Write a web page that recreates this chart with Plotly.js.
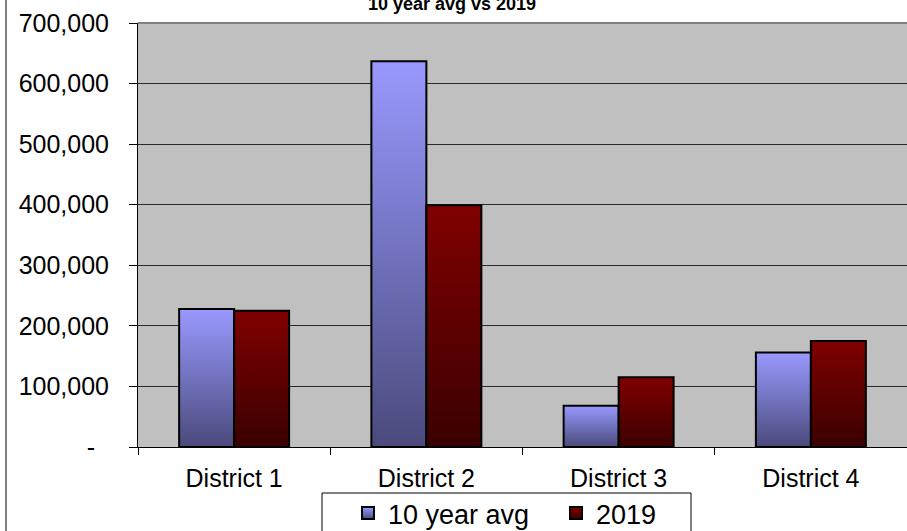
<!DOCTYPE html>
<html>
<head>
<meta charset="utf-8">
<script src="https://cdn.plot.ly/plotly-3.0.1.min.js"></script>
<style>
  html, body { margin: 0; padding: 0; background: #fff; }
  #chart { width: 907px; height: 531px; }
</style>
</head>
<body>
<div id="chart"></div>
<script>
// ---- data ----
var categories = ['District 1', 'District 2', 'District 3', 'District 4'];
var avg10 = [228000, 637000, 68000, 156000];
var y2019 = [225000, 399000, 115000, 175000];
var seriesNames = ['10 year avg', '2019'];
var yTickVals = [0, 100000, 200000, 300000, 400000, 500000, 600000, 700000];
var yTickText = ['-\u00a0\u00a0', '100,000', '200,000', '300,000', '400,000', '500,000', '600,000', '700,000'];
var titleText = '10 year avg vs 2019';

var FONT = 'Liberation Sans, Arial, sans-serif';
var W = 907, H = 531;
var L = 138, R = 0, T = 23, B = 84;
var plotW = W - L - R, plotH = H - T - B;
function px2paperX(px) { return (px - L) / plotW; }
function px2paperY(py) { return (H - B - py) / plotH; }

var traces = [
  {
    type: 'bar', name: seriesNames[0], x: categories, y: avg10,
    marker: { color: '#7777C8', line: { color: '#000', width: 2 } }
  },
  {
    type: 'bar', name: seriesNames[1], x: categories, y: y2019,
    marker: { color: '#600000', line: { color: '#000', width: 2 } }
  }
];

var layout = {
  width: W, height: H,
  margin: { l: L, r: R, t: T, b: B, autoexpand: false },
  paper_bgcolor: '#ffffff',
  plot_bgcolor: '#C0C0C0',
  font: { family: FONT, color: '#000', size: 25 },
  barmode: 'group',
  bargap: 0.428,
  bargroupgap: 0,
  showlegend: true,
  title: {
    text: '<b>' + titleText + '</b>',
    font: { family: FONT, size: 18, color: '#000' },
    x: 452 / W, xanchor: 'center',
    y: 1 - 3.5 / H, yanchor: 'middle',
    xref: 'container', yref: 'container'
  },
  xaxis: {
    type: 'category',
    showgrid: false,
    showline: true, linecolor: '#000', linewidth: 1,
    ticks: 'outside', ticklen: 7, tickcolor: '#000', tickwidth: 1,
    tickson: 'boundaries',
    ticklabelstandoff: 9,
    tickfont: { family: FONT, size: 25, color: '#000' },
    zeroline: false, fixedrange: true
  },
  yaxis: {
    range: [0, 700000],
    tickmode: 'array', tickvals: yTickVals, ticktext: yTickText,
    showgrid: true, gridcolor: '#2a2a2a', gridwidth: 1,
    showline: true, linecolor: '#000', linewidth: 1,
    ticks: 'outside', ticklen: 8, tickcolor: '#000', tickwidth: 1,
    ticklabelstandoff: 15,
    tickfont: { family: FONT, size: 25, color: '#000' },
    zeroline: false, fixedrange: true
  },
  legend: {
    orientation: 'h',
    x: px2paperX(348), xanchor: 'left',
    y: px2paperY(489), yanchor: 'top',
    bgcolor: 'rgba(0,0,0,0)', borderwidth: 0,
    font: { family: FONT, size: 27, color: '#000' },
    entrywidth: 163, entrywidthmode: 'pixels',
    traceorder: 'normal'
  },
  shapes: [
    // top edge of plot area (gray)
    { type: 'line', xref: 'paper', yref: 'paper', x0: 0, x1: 1, y0: 1, y1: 1,
      line: { color: '#808080', width: 2 }, layer: 'above' },
    // left border of the chart area
    { type: 'line', xref: 'paper', yref: 'paper',
      x0: px2paperX(6), x1: px2paperX(6), y0: px2paperY(H + 5), y1: px2paperY(-5),
      line: { color: '#808080', width: 2 }, layer: 'above' },
    // legend frame
    { type: 'rect', xref: 'paper', yref: 'paper',
      x0: px2paperX(322), x1: px2paperX(691), y0: px2paperY(H + 10), y1: px2paperY(493),
      fillcolor: '#ffffff', line: { color: '#000', width: 1 }, layer: 'below' }
  ]
};

Plotly.newPlot('chart', traces, layout, { staticPlot: true, displayModeBar: false }).then(function (gd) {
  // add vertical gradients (light top -> dark bottom) like the original fills
  var svgNS = 'http://www.w3.org/2000/svg';
  var defs = gd.querySelector('svg.main-svg defs');
  function addGrad(id, c0, c1) {
    var g = document.createElementNS(svgNS, 'linearGradient');
    g.setAttribute('id', id);
    g.setAttribute('x1', '0'); g.setAttribute('y1', '0');
    g.setAttribute('x2', '0'); g.setAttribute('y2', '1');
    [[0, c0], [1, c1]].forEach(function (s) {
      var st = document.createElementNS(svgNS, 'stop');
      st.setAttribute('offset', s[0]);
      st.setAttribute('stop-color', s[1]);
      g.appendChild(st);
    });
    defs.appendChild(g);
  }
  addGrad('grad0', '#9999FF', '#4A4A7C');
  addGrad('grad1', '#800000', '#3A0000');
  var gradIds = ['grad0', 'grad1'];
  var barTraces = gd.querySelectorAll('.barlayer .trace.bars');
  barTraces.forEach(function (tr, i) {
    tr.querySelectorAll('path').forEach(function (p) {
      p.style.fill = 'url(#' + gradIds[i] + ')';
    });
  });
  var legTraces = gd.querySelectorAll('.legend .traces');
  legTraces.forEach(function (tr, i) {
    tr.querySelectorAll('.legendpoints path').forEach(function (p) {
      p.style.fill = 'url(#' + gradIds[i] + ')';
    });
  });
});
</script>
</body>
</html>
